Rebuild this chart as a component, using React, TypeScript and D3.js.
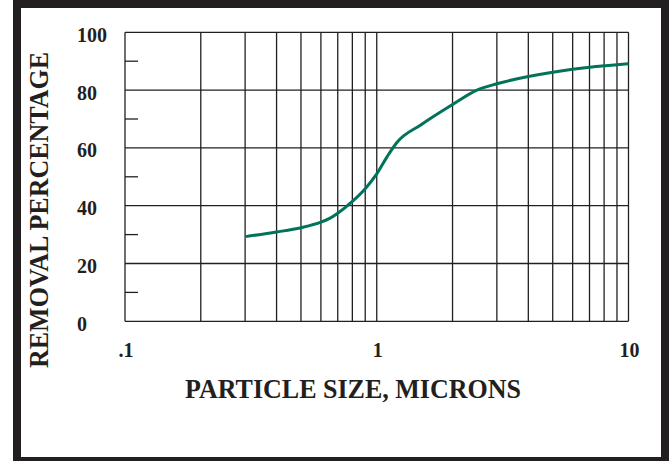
import React from "react";
import * as d3 from "d3";

const sizes = [0.3, 0.4, 0.5, 0.6, 0.65, 0.7, 0.8, 0.9, 1.0, 1.1, 1.2, 1.5, 2, 2.5, 3, 4, 5, 6, 7, 8, 9, 10];
const removal = [29.3, 30.9, 32.4, 34.3, 35.6, 37.4, 41.5, 45.9, 51, 57, 61.8, 68, 75, 80, 82.2, 84.7, 86.2, 87.2, 87.9, 88.4, 88.8, 89.1];
const yMajor = [0, 20, 40, 60, 80, 100];
const yMinor = [10, 30, 50, 70, 90];
const xGrid = [0.2, 0.3, 0.4, 0.5, 0.6, 0.7, 0.8, 0.9, 1, 2, 3, 4, 5, 6, 7, 8, 9, 10];
const xLabels = [
  { v: 0.1, t: ".1" },
  { v: 1, t: "1" },
  { v: 10, t: "10" },
];

const W = 670;
const H = 461;
const L = 125, R = 628.5, T = 32.3, B = 321.3;
const INK = "#231f20";
const FONT = "'Liberation Serif', 'Times New Roman', serif";

export default function App() {
  const x = d3.scaleLog().domain([0.1, 10]).range([L, R]);
  const y = d3.scaleLinear().domain([0, 100]).range([B, T]);
  const line = d3
    .line<number>()
    .x((_, i) => x(sizes[i]))
    .y((d) => y(d))
    .curve(d3.curveMonotoneX);

  return (
    <svg
      width={W}
      height={H}
      style={{ position: "absolute", left: 0, top: 0, background: "#fff", display: "block" }}
    >
      <rect x={0} y={0} width={W} height={H} fill="#fff" />
      <rect x={13} y={0} width={656} height={8} fill={INK} />
      <rect x={13} y={0} width={8} height={H} fill={INK} />
      <rect x={661} y={0} width={8} height={H} fill={INK} />
      <rect x={13} y={457} width={656} height={4} fill={INK} />
      {xGrid.map((v) => (
        <line key={"xg" + v} x1={x(v)} x2={x(v)} y1={T} y2={B} stroke={INK} strokeWidth={1.3} />
      ))}
      {yMajor.map((v) => (
        <line key={"yg" + v} x1={L} x2={R} y1={y(v)} y2={y(v)} stroke={INK} strokeWidth={1.3} />
      ))}
      {yMinor.map((v) => (
        <line key={"ym" + v} x1={L} x2={L + 13} y1={y(v)} y2={y(v)} stroke={INK} strokeWidth={1.3} />
      ))}
      <line x1={L} x2={L} y1={T} y2={B} stroke={INK} strokeWidth={1.3} />
      <path d={line(removal) || ""} fill="none" stroke="#00735a" strokeWidth={3} />
      {yMajor.map((v) => (
        <text
          key={"yl" + v}
          x={77}
          y={y(v) + 9.5}
          fontFamily={FONT}
          fontWeight="bold"
          fontSize={20}
          fill={INK}
        >
          {v}
        </text>
      ))}
      {xLabels.map((d) => (
        <text
          key={"xl" + d.t}
          x={x(d.v) + 1}
          y={356.5}
          textAnchor="middle"
          fontFamily={FONT}
          fontWeight="bold"
          fontSize={20}
          fill={INK}
        >
          {d.t}
        </text>
      ))}
      <text
        x={353}
        y={398}
        textAnchor="middle"
        fontFamily={FONT}
        fontWeight="bold"
        fontSize={27}
        textLength={336}
        lengthAdjust="spacingAndGlyphs"
        fill={INK}
      >
        PARTICLE SIZE, MICRONS
      </text>
      <text
        transform="translate(48,210) rotate(-90)"
        textAnchor="middle"
        fontFamily={FONT}
        fontWeight="bold"
        fontSize={27}
        textLength={316}
        lengthAdjust="spacingAndGlyphs"
        fill={INK}
      >
        REMOVAL PERCENTAGE
      </text>
    </svg>
  );
}
